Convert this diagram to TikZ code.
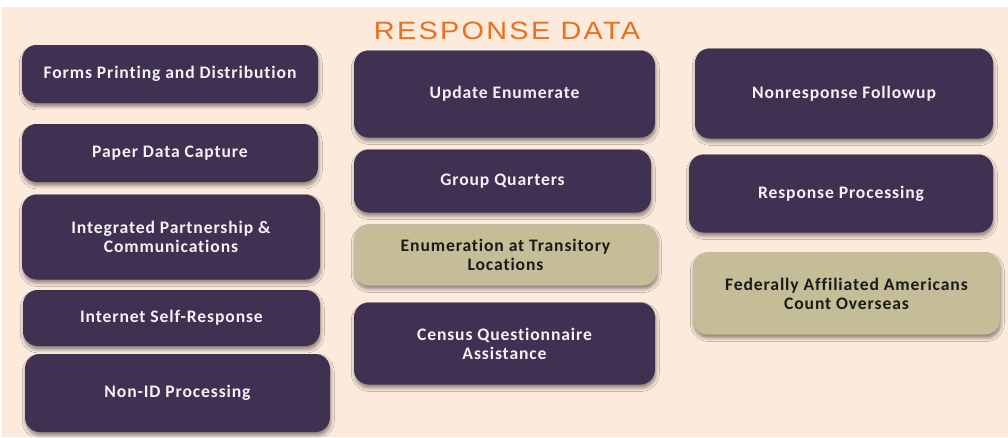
\documentclass[tikz,border=0pt]{standalone}
\usepackage{fontspec}
\setmainfont{Carlito}[LetterSpace=5, Ligatures=NoCommon]
\newfontfamily\titlefont[LetterSpace=8]{Liberation Sans}
\usetikzlibrary{shadows.blur}
\definecolor{pagebg}{HTML}{FCEADC}
\definecolor{plum}{HTML}{403052}
\definecolor{khaki}{HTML}{C4BD98}
\definecolor{titleorange}{HTML}{E8701E}
\definecolor{offwhite}{HTML}{F4F2F4}
\definecolor{inkdark}{HTML}{1A1A1A}
\def\u{0.75pt}
\tikzset{
  card/.style={rectangle, rounded corners=11pt, inner sep=0pt, align=center,
    font=\bfseries\fontsize{13.2}{14.2}\selectfont,
    blur shadow={shadow xshift=0.6pt, shadow yshift=-2.6pt, shadow blur steps=6,
      shadow blur radius=2.6pt, shadow opacity=45}},
  plumcard/.style={card, fill=plum, text=offwhite},
  khakicard/.style={card, fill=khaki, text=inkdark},
  sz/.style 2 args={minimum width=#1*\u, minimum height=#2*\u}
}
\begin{document}
\begin{tikzpicture}[x=\u, y=-\u]
  % page and background
  \fill[white] (0,0) rectangle (1008,437);
  \fill[pagebg] (2,7) rectangle (1008,437);
  \useasboundingbox (0,0) rectangle (1008,437);

  % heading
  \node[anchor=base, text=titleorange, inner sep=0pt,
        font=\titlefont\fontsize{18.8}{20}\selectfont] (title) at (507,39)
        {\scalebox{1.15}[1]{RESPONSE DATA}};

  % left column
  \node[plumcard, sz={296}{58}] (forms)    at (170,74)    {Forms Printing and Distribution};
  \node[plumcard, sz={296}{58}] (paper)    at (170,153)   {Paper Data Capture};
  \node[plumcard, sz={298}{85}] (ipc)      at (171,237)   {Integrated Partnership \&\\Communications};
  \node[plumcard, sz={297}{56}] (isr)      at (171.5,318) {Internet Self-Response};
  \node[plumcard, sz={305}{78}] (nonid)    at (177.5,393) {Non-ID Processing};

  % middle column
  \node[plumcard, sz={301}{87}] (update)   at (504.5,94)  {Update Enumerate};
  \node[plumcard, sz={297}{63}] (gq)       at (502.5,181) {Group Quarters};
  \node[khakicard, sz={303}{61}] (etl)     at (505.5,255) {Enumeration at Transitory\\Locations};
  \node[plumcard, sz={301}{82}] (cqa)      at (504.5,343.5) {Census Questionnaire\\Assistance};

  % right column
  \node[plumcard, sz={298}{90}] (nrfu)     at (844,93.5)  {Nonresponse Followup};
  \node[plumcard, sz={304}{78}] (rp)       at (841,193.5) {Response Processing};
  \node[khakicard, sz={307}{82}] (faaco)   at (846.5,293.5) {Federally Affiliated Americans\\Count Overseas};
\end{tikzpicture}
\end{document}
